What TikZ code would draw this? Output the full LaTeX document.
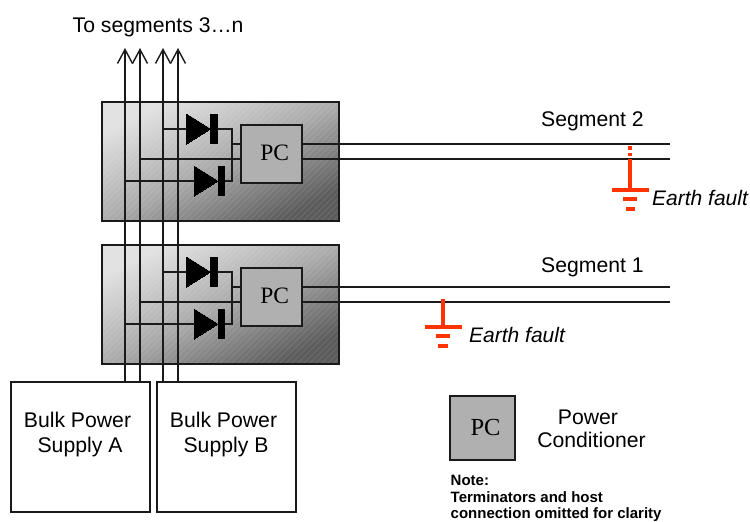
\documentclass[tikz,border=0pt]{standalone}
\usepackage{fontspec}
\setmainfont{Liberation Sans}
\newfontfamily\pcfont{Liberation Serif}
\usepackage{xcolor}
\usetikzlibrary{arrows.meta,positioning,shapes.geometric}
\definecolor{wirecol}{RGB}{26,26,26}
\definecolor{faultred}{RGB}{255,51,0}
\definecolor{pcgray}{RGB}{176,176,176}
\definecolor{blocklight}{RGB}{226,226,226}
\definecolor{blockmid}{RGB}{172,172,172}
\definecolor{blockdark}{RGB}{92,92,92}
\pgfdeclareverticalshading{blockshade}{100bp}{color(0bp)=(blockdark); color(33.4bp)=(blockdark);
  color(50bp)=(blockmid); color(66.6bp)=(blocklight); color(100bp)=(blocklight)}
\begin{document}
\begin{tikzpicture}[
    x=1pt,y=-1pt,
    node distance=5pt and 7pt,
    wire/.style={draw=wirecol,line width=1.8pt,line cap=rect},
    rail/.style={draw=wirecol,line width=1.8pt,-{Straight Barb[length=14pt,width=15pt,line width=1.4pt]}},
    block/.style={rectangle,draw=wirecol,line width=1.8pt,inner sep=0pt,minimum width=237pt,minimum height=119pt,
      path picture={
        \shade[shading=blockshade,shading angle=26.5] (path picture bounding box.center)
          +(-118.5,-118.5) rectangle +(118.5,118.5);
        \foreach \k in {-180,-174,...,180}
          \draw[white,opacity=.1,line width=1pt] ([xshift=\k pt,yshift=-70pt]path picture bounding box.center)
            -- ++(140,-140);
      }},
    pcbox/.style={rectangle,draw=wirecol,fill=pcgray,line width=1.8pt,inner sep=0pt,minimum width=61pt,
      font=\pcfont\fontsize{23.5}{26}\selectfont},
    supply/.style={rectangle,draw=wirecol,fill=white,line width=1.6pt,inner sep=0pt,minimum width=139pt,
      minimum height=130pt},
    diode/.style={isosceles triangle,isosceles triangle stretches,draw=black,fill=black,inner sep=0pt,
      minimum width=30pt,minimum height=24pt,line width=0pt},
    diodebar/.style={rectangle,fill=black,inner sep=0pt,minimum width=7.5pt,minimum height=30pt},
    gndbar/.style={rectangle,fill=faultred,inner sep=0pt,minimum height=3.6pt},
    fault/.style={draw=faultred,line width=3.4pt},
    lbl/.style={inner sep=0pt,font=\fontsize{21.2}{25}\selectfont},
    faultlbl/.style={inner sep=0pt,font=\itshape\fontsize{21}{25}\selectfont},
    note/.style={inner sep=0pt,align=left,font=\bfseries\fontsize{15}{16}\selectfont}]
    \useasboundingbox (0,0) rectangle (750,522);
    \node[block] (block2) at (220.5,161.5) {};
    \node[block] (block1) at (220.5,304.5) {};
    \node[supply] (supplyA) at (80.5,447) {};
    \node[supply] (supplyB) at (226.5,447) {};
    \node[lbl,anchor=base] (supplyAtop) at (77.5,427) {Bulk Power};
    \node[lbl,anchor=base] (supplyAbot) at (80,452) {Supply A};
    \node[lbl,anchor=base] (supplyBtop) at (223.5,427) {Bulk Power};
    \node[lbl,anchor=base] (supplyBbot) at (226,452) {Supply B};
    \coordinate (railA) at (125,382);
    \coordinate (railAtop) at (125,48);
    \coordinate (railB) at (140,382);
    \coordinate (railBtop) at (140,48);
    \coordinate (railC) at (163,382);
    \coordinate (railCtop) at (163,48);
    \coordinate (railD) at (178,382);
    \coordinate (railDtop) at (178,48);
    \foreach \n/\dy in {2/0,1/143}{
      \begin{scope}[yshift=-\dy pt]
        \node[pcbox,minimum height=58pt] (pc\n) at (271.5,154) {\hspace*{6.5pt}\raisebox{2pt}{PC}};
        \node[diode,anchor=apex] (diodeup\n) at (210.5,129) {};
        \node[diodebar,anchor=west] (barup\n) at (210,129) {};
        \node[diode,anchor=apex] (diodedown\n) at (218,181) {};
        \node[diodebar,anchor=west] (bardown\n) at (217.5,181) {};
        \coordinate (join\n) at (232,144);
        \coordinate (sup\n) at (669,144);
        \coordinate (slo\n) at (669,159);
        \coordinate (tapB\n) at (140,159);
        \draw[wire] (railC |- diodeup\n.lower side) -- (diodeup\n.lower side);
        \draw[wire] (railA |- diodedown\n.lower side) -- (diodedown\n.lower side);
        \draw[wire] (tapB\n) -- (pc\n.west |- tapB\n);
        \draw[wire] (barup\n.east) -| (join\n);
        \draw[wire] (bardown\n.east) -| (join\n);
        \draw[wire] (join\n) -- (pc\n.west |- join\n);
        \draw[wire] (pc\n.east |- sup\n) -- (sup\n);
        \draw[wire] (pc\n.east |- slo\n) -- (slo\n);
      \end{scope}
    }
    \draw[rail] (railA) -- (railAtop);
    \draw[rail] (railB) -- (railBtop);
    \draw[rail] (railC) -- (railCtop);
    \draw[rail] (railD) -- (railDtop);
    \node[lbl,anchor=base west] (title) at (72.5,32) {To segments 3…n};
    \node[lbl,anchor=base west] (seglabel2) at (541,126) {Segment 2};
    \node[lbl,anchor=base west] (seglabel1) at (541,272) {Segment 1};
    \node[gndbar,minimum width=37pt] (gndtop2) at (630,189.7) {};
    \node[gndbar,minimum width=14pt,below=5.3pt of gndtop2] (gndmid2) {};
    \node[gndbar,minimum width=9pt,below=5.8pt of gndmid2] (gndlow2) {};
    \coordinate (faulta2) at (630,146);
    \coordinate (faultb2) at (630,159);
    \draw[fault,dash pattern=on 3.5pt off 3pt] (faulta2) -- (faultb2);
    \draw[fault] (faultb2) -- (gndtop2);
    \node[faultlbl,anchor=base west] (faultlabel2) at (652,205) {Earth fault};
    \node[gndbar,minimum width=37pt] (gndtop1) at (443,326.7) {};
    \node[gndbar,minimum width=14pt,below=5.3pt of gndtop1] (gndmid1) {};
    \node[gndbar,minimum width=10pt,below=5.8pt of gndmid1] (gndlow1) {};
    \coordinate (faulta1) at (443,299);
    \draw[fault] (faulta1) -- (gndtop1);
    \node[faultlbl,anchor=base west] (faultlabel1) at (469,342) {Earth fault};
    \node[pcbox,minimum width=65pt,minimum height=64pt,font=\pcfont\fontsize{24.5}{26}\selectfont] (legendpc) at (482.5,428) {\hspace*{6pt}\raisebox{1pt}{PC}};
    \node[lbl,anchor=base] (legendtop) at (588,424) {Power};
    \node[lbl,anchor=base] (legendbot) at (591.5,447) {Conditioner};
    \node[note,anchor=base west] (notehead) at (450.5,485) {Note:};
    \node[note,anchor=base west] (notetext) at (450.5,518) {Terminators and host\\connection omitted for clarity};
\end{tikzpicture}
\end{document}
